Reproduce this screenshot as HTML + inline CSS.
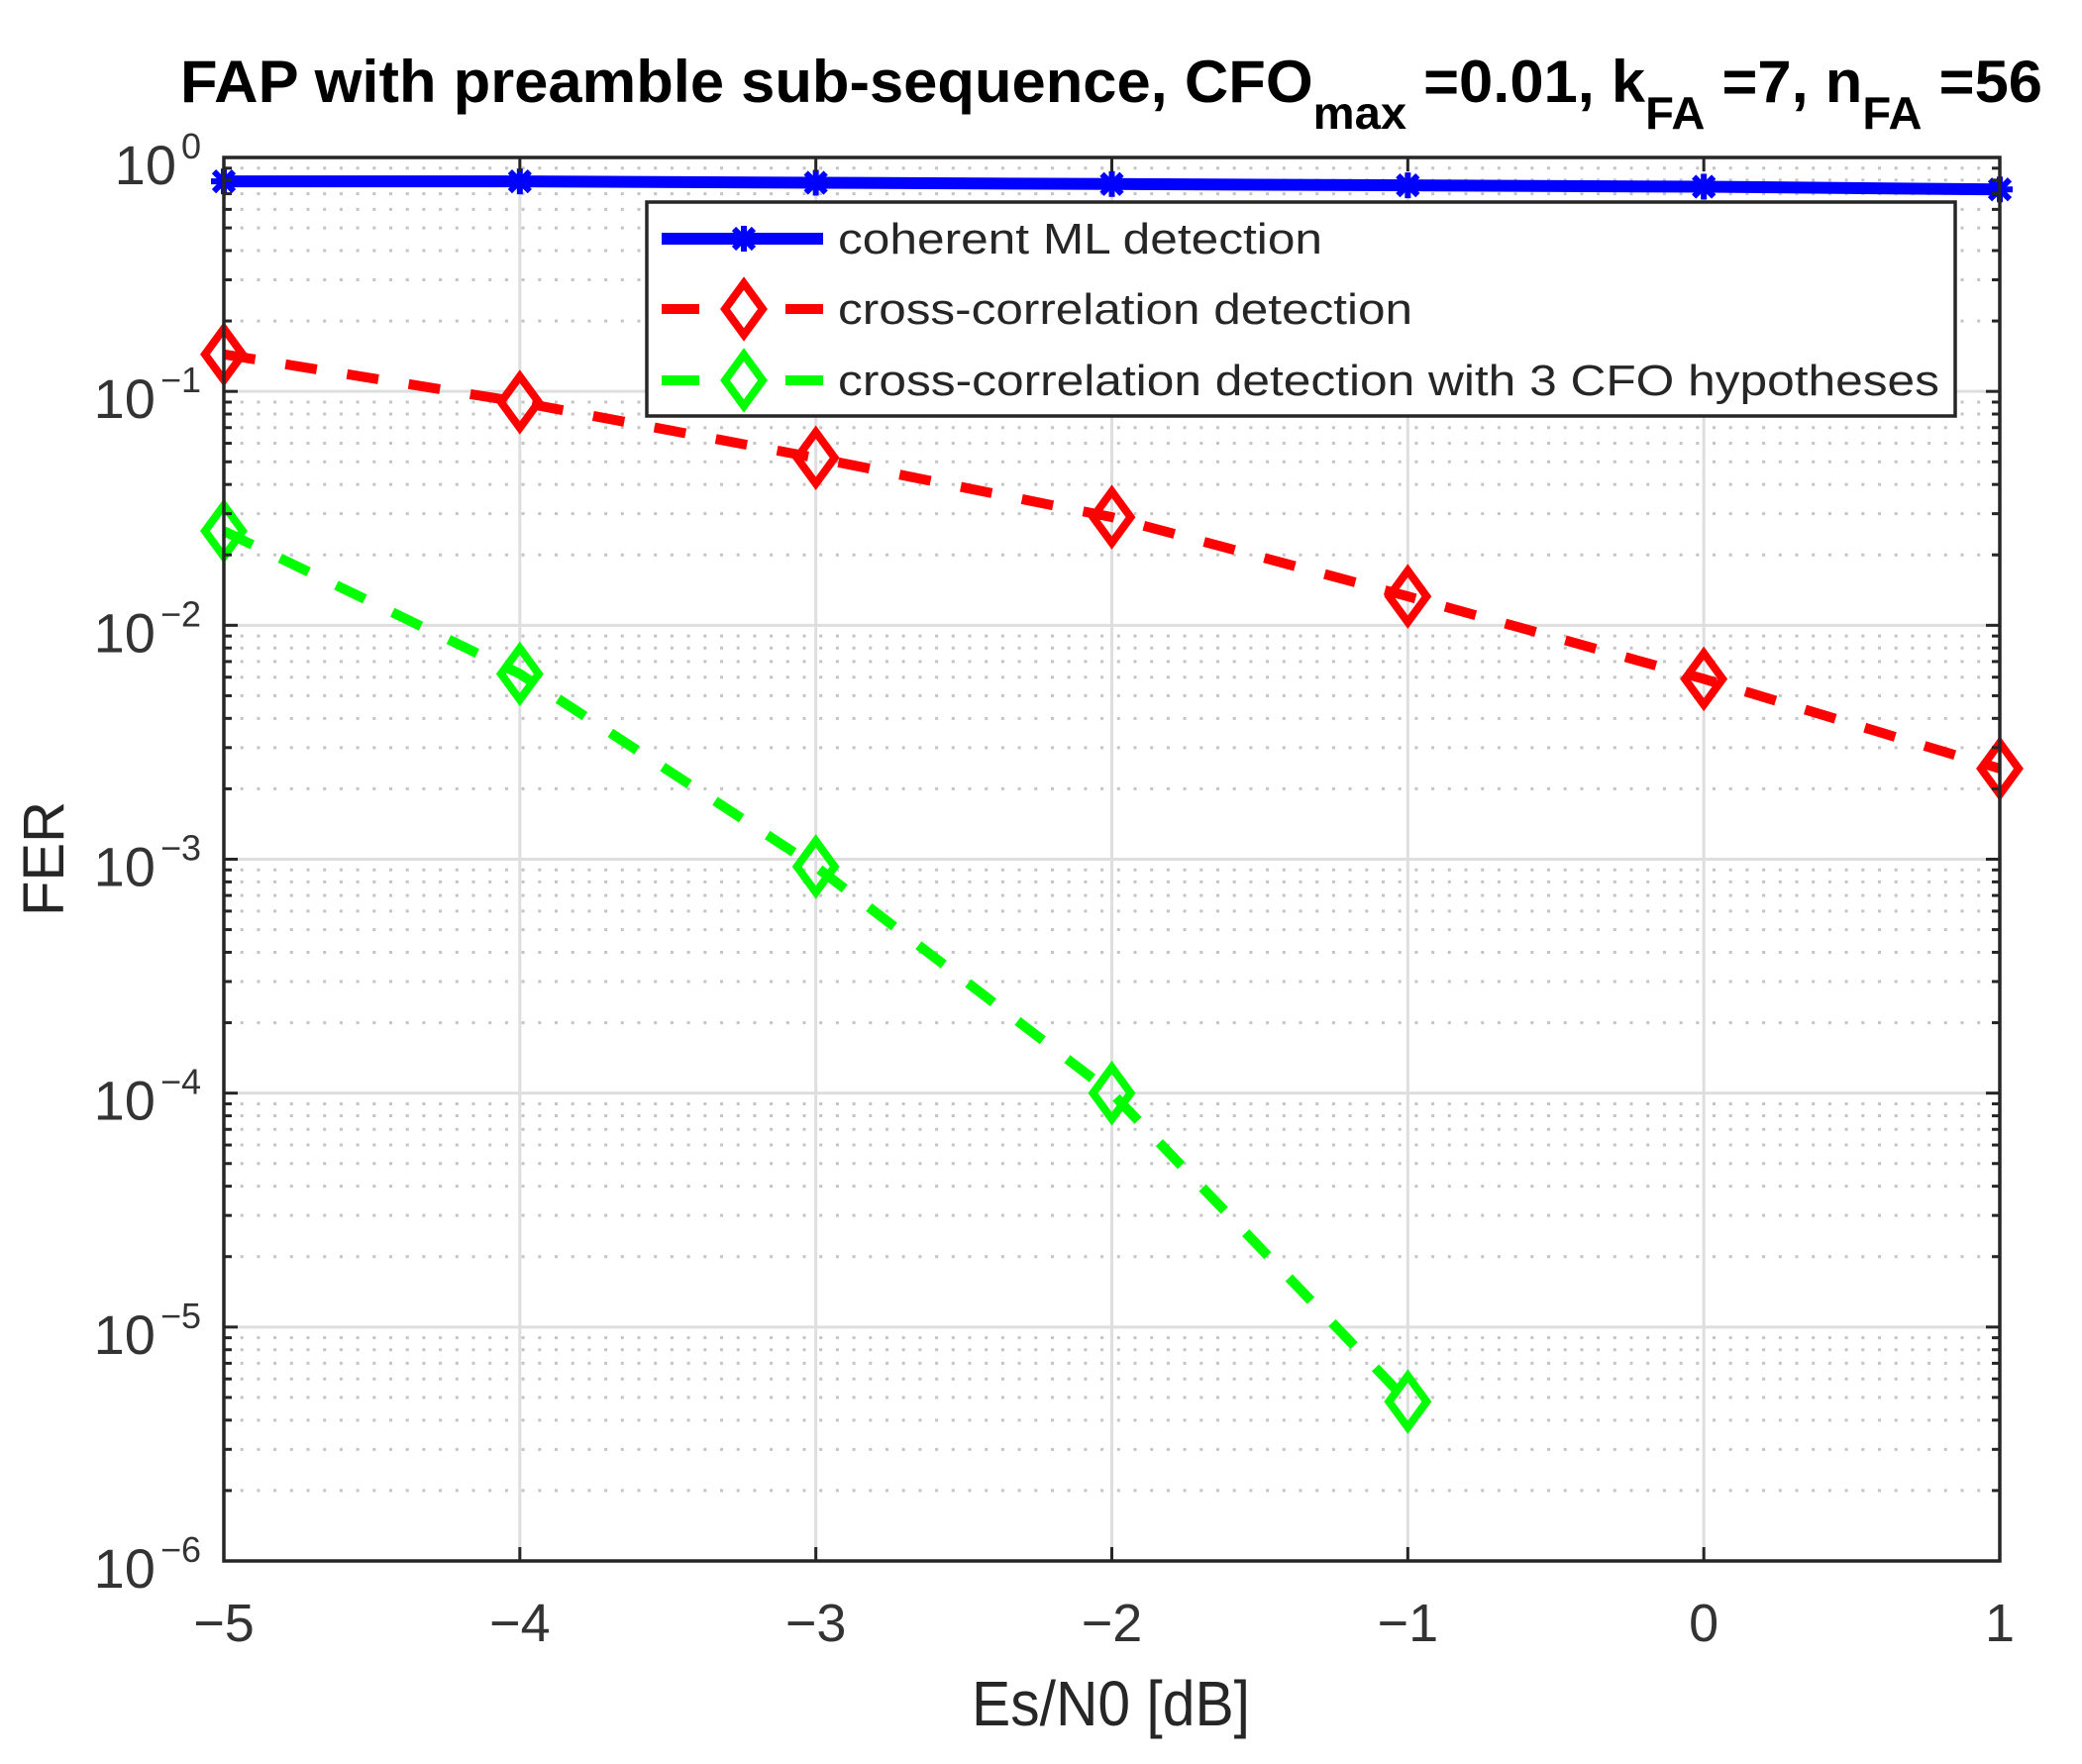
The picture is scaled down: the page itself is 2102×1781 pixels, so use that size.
<!DOCTYPE html>
<html><head><meta charset="utf-8"><style>
html,body{margin:0;padding:0;background:#fff;}
svg{display:block;font-family:"Liberation Sans",Arial,sans-serif;}
</style></head><body>
<svg id="chart" width="2102" height="1781" viewBox="0 0 2102 1781" xmlns="http://www.w3.org/2000/svg">
<rect width="2102" height="1781" fill="#fff"/>
<text x="182" y="103" font-size="60" font-weight="bold" fill="#000" textLength="1880" lengthAdjust="spacingAndGlyphs">FAP with preamble sub-sequence, CFO<tspan font-size="46" dy="27">max</tspan><tspan dy="-27"> =0.01, k</tspan><tspan font-size="46" dy="27">FA</tspan><tspan dy="-27"> =7, n</tspan><tspan font-size="46" dy="27">FA</tspan><tspan dy="-27"> =56</tspan></text>
<g id="grid"></g>
<g id="series"></g>
<g id="axes"></g>
<g id="legend"></g>
<text x="981" y="1742" font-size="64" fill="#262626" textLength="281" lengthAdjust="spacingAndGlyphs">Es/N0 [dB]</text>
<text transform="translate(64,867) rotate(-90)" text-anchor="middle" font-size="58" fill="#262626">FER</text>
</svg>
<script>
const xValues=[-5,-4,-3,-2,-1,0,1];
const blueValues=[0.79,0.79,0.78,0.77,0.76,0.75,0.73];
const redValues=[0.144,0.090,0.052,0.029,0.0133,0.0059,0.00244];
const greenX=[-5,-4,-3,-2,-1];
const greenValues=[0.0253,0.0062,0.00093,0.0001,0.0000048];
const xTicks=[-5,-4,-3,-2,-1,0,1];
const xTickLabels=["\u22125","\u22124","\u22123","\u22122","\u22121","0","1"];
const yExponents=[0,-1,-2,-3,-4,-5,-6];
const legendLabels=["coherent ML detection","cross-correlation detection","cross-correlation detection with 3 CFO hypotheses"];

const NS="http://www.w3.org/2000/svg";
const L=226,R=2019,T=159,B=1576;
const xMin=-5,xMax=1,yMinExp=-6,yMaxExp=0;
function sx(v){return L+(v-xMin)/(xMax-xMin)*(R-L);}
function sy(v){return T+(yMaxExp-Math.log10(v))/(yMaxExp-yMinExp)*(B-T);}
function mk(tag,attrs,parent){const e=document.createElementNS(NS,tag);for(const k in attrs)e.setAttribute(k,attrs[k]);parent.appendChild(e);return e;}
const grid=document.getElementById('grid'),axes=document.getElementById('axes'),series=document.getElementById('series'),legend=document.getElementById('legend');

for(let e=yMinExp;e<yMaxExp;e++){for(let m=2;m<=9;m++){const y=sy(m*Math.pow(10,e));
const ln=mk('line',{x1:L,x2:R,y1:y,y2:y,stroke:'#c4c4c4','stroke-width':3,'stroke-dasharray':'3 13.7'},grid);


const t1=mk('line',{x1:L,x2:L+8,y1:y,y2:y,stroke:'#262626','stroke-width':3},axes);


const t2=mk('line',{x1:R,x2:R-8,y1:y,y2:y,stroke:'#262626','stroke-width':3},axes);


}}
yExponents.forEach(e=>{const y=sy(Math.pow(10,e));
const ln=mk('line',{x1:L,x2:R,y1:y,y2:y,stroke:'#dedede','stroke-width':3},grid);


const t1=mk('line',{x1:L,x2:L+14,y1:y,y2:y,stroke:'#262626','stroke-width':3},axes);


const t2=mk('line',{x1:R,x2:R-14,y1:y,y2:y,stroke:'#262626','stroke-width':3},axes);


const ex=mk('text',{x:203,y:y+1,'text-anchor':'end','font-size':36,fill:'#333'},axes);
ex.textContent=e===0?'0':'\u2212'+(-e);


const w=ex.getComputedTextLength();
const base=mk('text',{x:203-w-5,y:y+27,'text-anchor':'end','font-size':56,fill:'#333'},axes);
base.textContent='10';


});
xTicks.forEach((v,i)=>{const x=sx(v);
const ln=mk('line',{x1:x,x2:x,y1:T,y2:B,stroke:'#dedede','stroke-width':3},grid);


const t1=mk('line',{x1:x,x2:x,y1:B,y2:B-14,stroke:'#262626','stroke-width':3},axes);


const t2=mk('line',{x1:x,x2:x,y1:T,y2:T+14,stroke:'#262626','stroke-width':3},axes);


const tx=mk('text',{x:x,y:1657,'text-anchor':'middle','font-size':54,fill:'#333'},axes);
tx.textContent=xTickLabels[i];


});
const box=mk('rect',{x:L,y:T,width:R-L,height:B-T,fill:'none',stroke:'#262626','stroke-width':3.5},axes);



function diamond(x,y,color,parent,name){const d=mk('path',{d:`M${x} ${y-26}L${x+19} ${y}L${x} ${y+26}L${x-19} ${y}Z`,fill:'none',stroke:color,'stroke-width':8},parent);

}
function star(x,y,color,parent,name){const g=mk('g',{stroke:color,'stroke-width':6},parent);


mk('line',{x1:x-13,x2:x+13,y1:y,y2:y},g);mk('line',{x1:x,x2:x,y1:y-13,y2:y+13},g);
mk('line',{x1:x-10,x2:x+10,y1:y-10,y2:y+10},g);mk('line',{x1:x-10,x2:x+10,y1:y+10,y2:y-10},g);}

function drawLine(xs,vals,color,dash,width,name){const pts=xs.map((v,i)=>sx(v)+','+sy(vals[i])).join(' ');
const p=mk('polyline',{points:pts,fill:'none',stroke:color,'stroke-width':width,'stroke-dasharray':dash},series);

}
drawLine(xValues,blueValues,'#0000ff','none',12,'coherent-ml-line');
xValues.forEach((v,i)=>star(sx(v),sy(blueValues[i]),'#0000ff',series,'coherent-ml-marker'));
drawLine(xValues,redValues,'#ff0000','32 31',10,'cross-correlation-line');
xValues.forEach((v,i)=>diamond(sx(v),sy(redValues[i]),'#ff0000',series,'cross-correlation-marker'));
drawLine(greenX,greenValues,'#00ff00','32 31',10,'cross-correlation-3cfo-line');
greenX.forEach((v,i)=>diamond(sx(v),sy(greenValues[i]),'#00ff00',series,'cross-correlation-3cfo-marker'));

const lb=mk('rect',{x:653,y:204,width:1321,height:216,fill:'#fff',stroke:'#262626','stroke-width':3.5},legend);


const rows=[241,312,384],cols=['#0000ff','#ff0000','#00ff00'],widths=[489,580,1112];
legendLabels.forEach((lab,i)=>{const y=rows[i];
const g=mk('g',{},legend);


mk('line',{x1:668,x2:831,y1:y,y2:y,stroke:cols[i],'stroke-width':i===0?12:10,'stroke-dasharray':i===0?'none':'38 87'},g);
if(i===0)star(751,y,cols[i],g,'legend-marker');else diamond(751,y,cols[i],g,'legend-marker');
const t=mk('text',{x:846,y:y+15,'font-size':44,fill:'#262626',textLength:widths[i],lengthAdjust:'spacingAndGlyphs'},g);
t.textContent=lab;


});
</script>
</body></html>
